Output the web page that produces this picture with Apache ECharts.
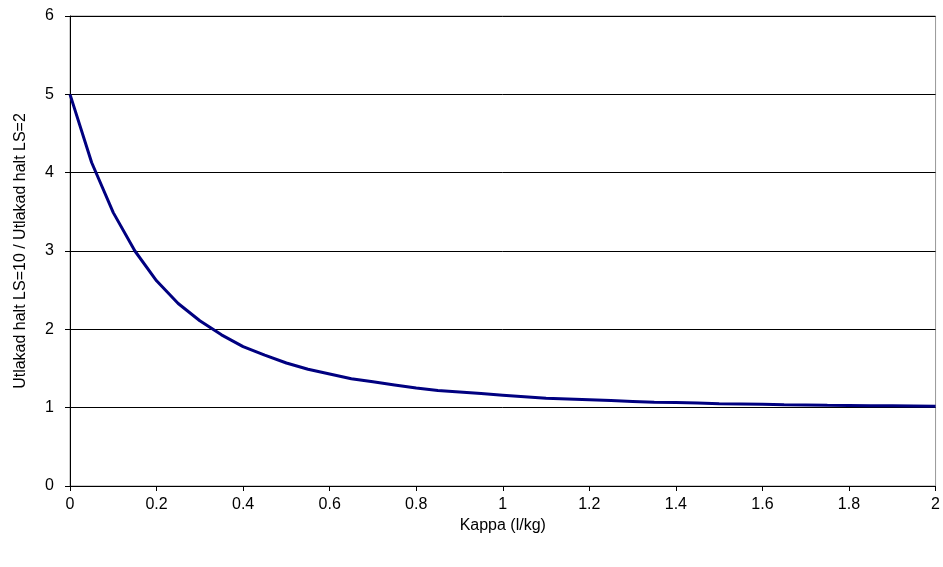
<!DOCTYPE html>
<html>
<head>
<meta charset="utf-8">
<script src="https://cdn.jsdelivr.net/npm/echarts@6/dist/echarts.min.js"></script>
<style>html,body{margin:0;padding:0;background:#fff}#c{width:943px;height:567px}</style>
</head>
<body>
<div id="c"></div>
<script>
const kappa = [0,0.05,0.1,0.15,0.2,0.25,0.3,0.35,0.4,0.45,0.5,0.55,0.6,0.65,0.7,0.75,0.8,0.85,0.9,0.95,1.0,1.05,1.1,1.15,1.2,1.25,1.3,1.35,1.4,1.45,1.5,1.55,1.6,1.65,1.7,1.75,1.8,1.85,1.9,1.95,2.0];
const ratio = [5.0,4.13,3.49,3.0,2.62,2.33,2.11,1.93,1.78,1.67,1.57,1.49,1.43,1.37,1.33,1.29,1.25,1.22,1.2,1.18,1.16,1.14,1.12,1.11,1.1,1.09,1.08,1.07,1.065,1.06,1.05,1.047,1.043,1.038,1.035,1.031,1.028,1.025,1.023,1.021,1.019];
const xTicks = [0,0.2,0.4,0.6,0.8,1,1.2,1.4,1.6,1.8,2];
const yTicks = [0,1,2,3,4,5,6];
const xName = 'Kappa (l/kg)';
const yName = 'Utlakad halt LS=10 / Utlakad halt LS=2';

const chart = echarts.init(document.getElementById('c'), null, {renderer:'canvas'});
const font = 'Liberation Sans, Arial, sans-serif';
chart.setOption({
  animation:false,
  backgroundColor:'#fff',
  grid:{left:70,right:6,top:16,bottom:81,show:true,borderColor:'#999',borderWidth:1,backgroundColor:'transparent'},
  xAxis:{type:'value',min:xTicks[0],max:xTicks[xTicks.length-1],interval:0.2,
    name:xName,nameLocation:'middle',nameGap:30,
    nameTextStyle:{fontFamily:font,fontSize:16,color:'#000'},
    axisLine:{lineStyle:{color:'#000',width:1}},
    axisTick:{show:true,length:5,lineStyle:{color:'#000'}},
    axisLabel:{fontFamily:font,fontSize:16,color:'#000',margin:11,formatter:v=>String(+v.toFixed(1))},
    splitLine:{show:false}},
  yAxis:{type:'value',min:yTicks[0],max:yTicks[yTicks.length-1],interval:1,
    name:yName,nameLocation:'middle',nameGap:41,
    nameTextStyle:{fontFamily:font,fontSize:16,color:'#000'},
    axisLine:{show:true,lineStyle:{color:'#000',width:1}},
    axisTick:{show:true,length:5,lineStyle:{color:'#000'}},
    axisLabel:{fontFamily:font,fontSize:16,color:'#000',margin:16},
    splitLine:{show:true,lineStyle:{color:'#000',width:1}}},
  series:[{type:'line',data:kappa.map((k,i)=>[k,ratio[i]]),showSymbol:false,smooth:false,
    lineStyle:{color:'#000080',width:3},itemStyle:{color:'#000080'}}]
});
</script>
</body>
</html>
